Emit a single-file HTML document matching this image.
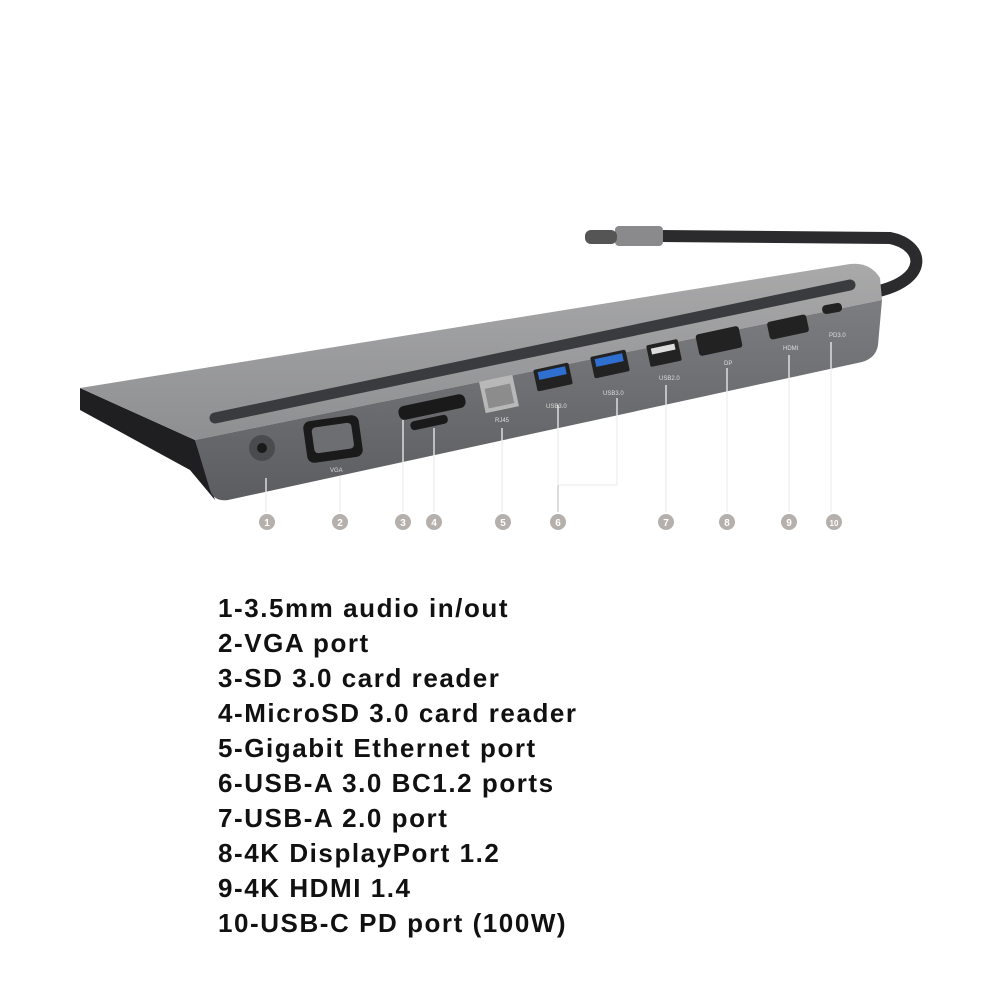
<!DOCTYPE html>
<html><head><meta charset="utf-8"><style>
html,body{margin:0;padding:0;background:#fff;width:1000px;height:1000px;overflow:hidden}
.t{position:absolute;left:218px;font-family:"Liberation Sans","Noto Sans CJK JP",sans-serif;font-weight:bold;font-size:26px;letter-spacing:1.55px;color:#111;line-height:35px}
</style></head><body>
<svg width="1000" height="1000" style="position:absolute;left:0;top:0">
<defs>
<linearGradient id="top" x1="0" y1="0" x2="0" y2="1"><stop offset="0" stop-color="#a9a9aa"/><stop offset="1" stop-color="#8e8f91"/></linearGradient>
<linearGradient id="front" x1="0" y1="0" x2="0" y2="1"><stop offset="0" stop-color="#7c7d80"/><stop offset="1" stop-color="#5c5d60"/></linearGradient>
</defs>
<path d="M875 292 C930 280 925 245 890 238 L660 236" fill="none" stroke="#2b2b2d" stroke-width="12"/>
<rect x="615" y="226" width="48" height="20" rx="4" fill="#8a8a8c"/>
<rect x="585" y="230" width="32" height="14" rx="6" fill="#555"/>
<path d="M80 388 L195 440 L215 500 L190 470 L80 410 Z" fill="#1f1f21"/>
<path d="M80 388 L850 264 Q870 262 880 278 L882 300 L195 440 Z" fill="url(#top)"/>
<path d="M215 418 L850 285" stroke="#3a3b3e" stroke-width="11" stroke-linecap="round"/>
<path d="M195 440 L882 300 L878 345 Q876 358 862 362 L228 500 Q214 502 210 490 Z" fill="url(#front)"/>
<circle cx="262" cy="448" r="13" fill="#4a4b4e"/><circle cx="262" cy="448" r="5" fill="#1a1a1a"/>
<rect x="305" y="418" width="56" height="42" rx="7" fill="#1a1a1b" transform="rotate(-8 333 439)"/>
<rect x="313" y="425" width="40" height="26" rx="4" fill="#6d6e71" transform="rotate(-8 333 439)"/>
<rect x="398" y="400" width="68" height="14" rx="6" fill="#1a1a1b" transform="rotate(-12 432 407)"/>
<rect x="410" y="418" width="38" height="9" rx="4" fill="#1a1a1b" transform="rotate(-12 429 422)"/>
<rect x="482" y="378" width="34" height="32" fill="#b8b8b8" transform="rotate(-12 499 394)"/>
<rect x="486" y="386" width="26" height="20" fill="#8c8c8c" transform="rotate(-12 499 394)"/>
<rect x="535" y="366" width="36" height="22" rx="2" fill="#222" transform="rotate(-12 553 377)"/>
<rect x="539" y="369" width="28" height="8" fill="#2f6fd0" transform="rotate(-12 553 377)"/>
<rect x="592" y="353" width="36" height="22" rx="2" fill="#222" transform="rotate(-12 610 364)"/>
<rect x="596" y="356" width="28" height="8" fill="#2f6fd0" transform="rotate(-12 610 364)"/>
<rect x="648" y="342" width="32" height="22" rx="2" fill="#222" transform="rotate(-12 664 353)"/>
<rect x="652" y="346" width="24" height="6" fill="#ddd" transform="rotate(-12 664 353)"/>
<rect x="697" y="330" width="44" height="22" rx="3" fill="#222" transform="rotate(-12 719 341)"/>
<rect x="768" y="318" width="40" height="18" rx="3" fill="#222" transform="rotate(-12 788 327)"/>
<rect x="822" y="304" width="20" height="9" rx="4" fill="#222" transform="rotate(-10 832 308)"/>
<g font-family="Liberation Sans,sans-serif" font-size="6" fill="#ddd">
<text x="330" y="472">VGA</text><text x="495" y="422">RJ45</text><text x="546" y="408">USB3.0</text>
<text x="603" y="395">USB3.0</text><text x="659" y="380">USB2.0</text><text x="724" y="365">DP</text>
<text x="783" y="350">HDMI</text><text x="829" y="337">PD3.0</text></g>
<g stroke="#eee" stroke-width="1.3" fill="none">
<path d="M266 478V512M340 476V512M403 420V512M434 428V512M502 428V512M558 405V485H617V398M666 385V512M727 368V512M789 355V512M831 342V512"/></g>
<path d="M558 485V512" stroke="#bbb" stroke-width="1"/>
<g fill="#b5b0ab"><circle cx="267" cy="522" r="8"/><circle cx="340" cy="522" r="8"/><circle cx="403" cy="522" r="8"/><circle cx="434" cy="522" r="8"/><circle cx="503" cy="522" r="8"/><circle cx="558" cy="522" r="8"/><circle cx="666" cy="522" r="8"/><circle cx="727" cy="522" r="8"/><circle cx="789" cy="522" r="8"/><circle cx="834" cy="522" r="8"/></g>
<g font-family="Liberation Sans,sans-serif" font-size="10" font-weight="bold" fill="#fff" text-anchor="middle">
<text x="267" y="526">1</text><text x="340" y="526">2</text><text x="403" y="526">3</text><text x="434" y="526">4</text><text x="503" y="526">5</text><text x="558" y="526">6</text><text x="666" y="526">7</text><text x="727" y="526">8</text><text x="789" y="526">9</text><text x="834" y="526" font-size="8">10</text></g>
</svg>
<div class="t" style="top:591px">1-3.5mm audio in/out<br>2-VGA port<br>3-SD 3.0 card reader<br>4-MicroSD 3.0 card reader<br>5-Gigabit Ethernet port<br>6-USB-A 3.0 BC1.2 ports<br>7-USB-A 2.0 port<br>8-4K DisplayPort 1.2<br>9-4K HDMI 1.4<br>10-USB-C PD port (100W)</div>
</body></html>
